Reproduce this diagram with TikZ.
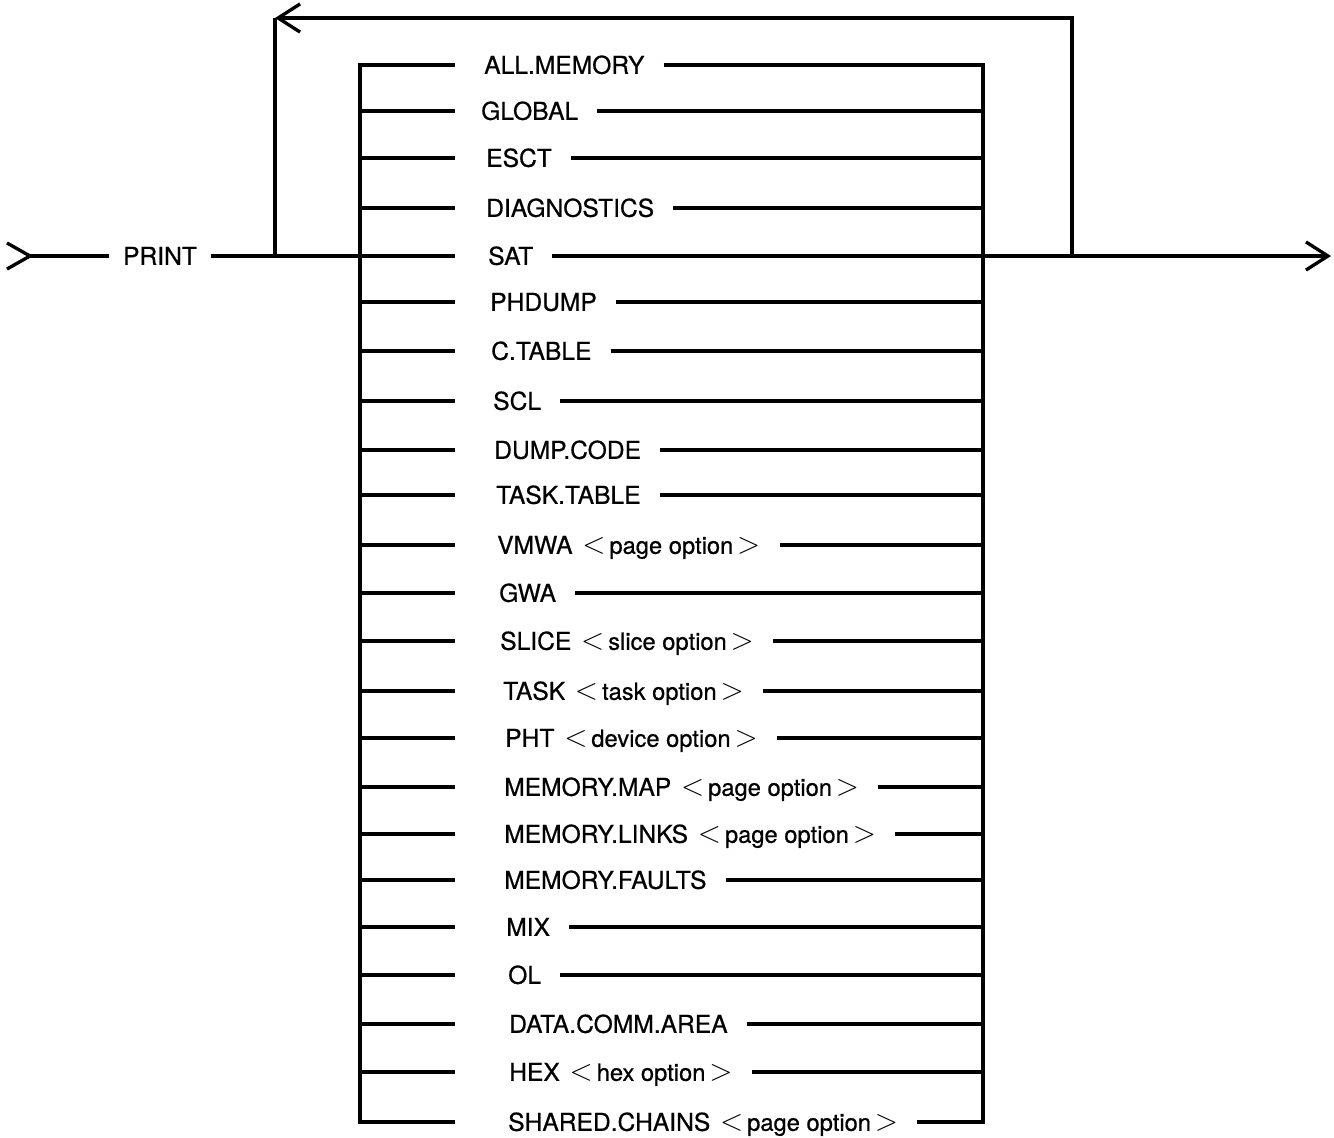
\documentclass[tikz,border=0pt]{standalone}
\usepackage{fontspec}
\setmainfont{TeX Gyre Heros}[FakeBold=0.6]
\usetikzlibrary{arrows.meta}
\newcommand{\optn}[1]{\hspace{0.4em}{\fontsize{16}{16}\selectfont$<$}{\fontsize{13.5}{16}\selectfont\,#1\,}{\fontsize{16}{16}\selectfont$>$}}

\begin{document}
\begin{tikzpicture}[x=0.02cm, y=-0.02cm, line width=1.9pt,
    lbl/.style={anchor=west, inner xsep=10pt, inner ysep=0pt, text height=10pt, text depth=0pt, font=\fontsize{14}{16}\selectfont},
    flow/.style={-{Straight Barb[length=12.5pt,width=16pt]}}
  ]
  \useasboundingbox (0,0) rectangle (1334,1137);

  % alternatives
  \foreach \y/\x/\t [count=\i] in {65/483/ALL.MEMORY, 111/480/GLOBAL, 158/485/ESCT,
      208/485/DIAGNOSTICS, 256/487/SAT, 302/489/PHDUMP, 351/490/C.TABLE, 401/492/SCL,
      450/493/DUMP.CODE, 495/495/TASK.TABLE, 545/496/VMWA\optn{page option}, 593/498/GWA,
      641/499/SLICE\optn{slice option}, 691/502/TASK\optn{task option},
      738/504/PHT\optn{device option}, 787/503/MEMORY.MAP\optn{page option},
      834/503/MEMORY.LINKS\optn{page option}, 880/503/MEMORY.FAULTS, 927/505/MIX,
      975/507/OL, 1024/508/DATA.COMM.AREA, 1072/508/HEX\optn{hex option},
      1122/507/SHARED.CHAINS\optn{page option}} {
    \coordinate (s\i) at (360,\y);
    \coordinate (e\i) at (983,\y);
    \node[lbl] (r\i) at (\x-18,\y) {\t};
    \draw (s\i) -- ++(95,0);
    \draw (r\i.east |- e\i) -- (e\i);
  }
  \draw[line cap=rect] (s1) -- (s23);
  \draw[line cap=rect] (e1) -- (e23);

  % entry and exit
  \coordinate (in) at (30,256);
  \coordinate (out) at (1331,256);
  \node[lbl, anchor=center, inner xsep=7pt] (print) at (160,256) {PRINT};
  \draw (in) ++(-23,-13) -- (in) -- ++(-23,13);
  \draw (in) -- (print);
  \draw (print) -- (s5);
  \draw[flow] (e5) -- (out);

  % repeat loop
  \coordinate (jl) at (275,256);
  \coordinate (jr) at (1072,256);
  \coordinate (top) at (275,18);
  \draw[flow] (jr) |- (top);
  \draw (top) -- (jl);
\end{tikzpicture}
\end{document}
